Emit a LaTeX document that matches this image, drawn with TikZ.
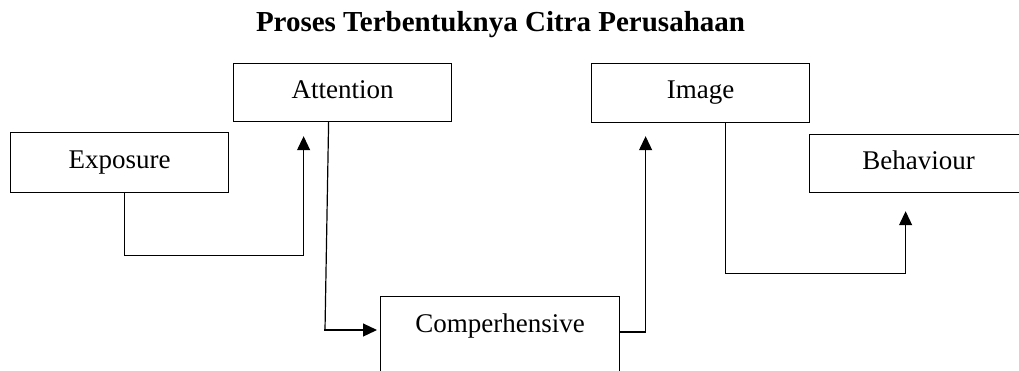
\documentclass[tikz,border=0pt]{standalone}
\usepackage{fontspec}
\setmainfont{Liberation Serif}
\usetikzlibrary{arrows.meta}
\begin{document}
\begin{tikzpicture}[x=1pt,y=-1pt,
  box/.style={draw, line width=1.2pt, anchor=north west, inner ysep=0pt, inner xsep=0pt,
    minimum width=218pt, text height=35pt, text depth=23pt,
    font=\fontsize{27}{30}\selectfont},
  conn/.style={line width=1.2pt},
  arr/.style={conn, -{Triangle[length=14pt,width=13pt]}},
  titlefont/.style={font=\fontsize{29}{33}\selectfont\bfseries}]
\useasboundingbox (0,0) rectangle (1019,370);
\clip (0,0) rectangle (1019,370);
\node[titlefont, anchor=base] (title) at (500.5,31.7) {Proses Terbentuknya Citra Perusahaan};
\node[box, text height=36pt, text depth=24pt] (exp) at (10,132) {Exposure};
\node[box] (att) at (233,63) {Attention};
\node[box, text depth=24pt] (img) at (591,63) {Image};
\node[box] (beh) at (809,134) {Behaviour};
\node[box, minimum width=239pt, text height=36pt, text depth=100pt] (comp) at (380,296) {Comperhensive};
\draw[arr] ([xshift=5pt]exp.south) -- ++(0,62) -| ([xshift=-39pt,yshift=-14pt]att.south);
\draw[conn] ([xshift=-14pt]att.south) -- ([xshift=-55pt,yshift=-34pt]comp.north west);
\draw[arr] ([xshift=-55.6pt,yshift=-34pt]comp.north west) -- ([xshift=-3pt,yshift=-34pt]comp.north west);
\draw[arr] ([yshift=-36pt]comp.north east) -- ++(25,0) -| ([xshift=-55pt,yshift=-13pt]img.south);
\draw[arr] ([xshift=25pt]img.south) -- ++(0,150) -| ([xshift=-13pt,yshift=-18pt]beh.south);
\end{tikzpicture}
\end{document}
